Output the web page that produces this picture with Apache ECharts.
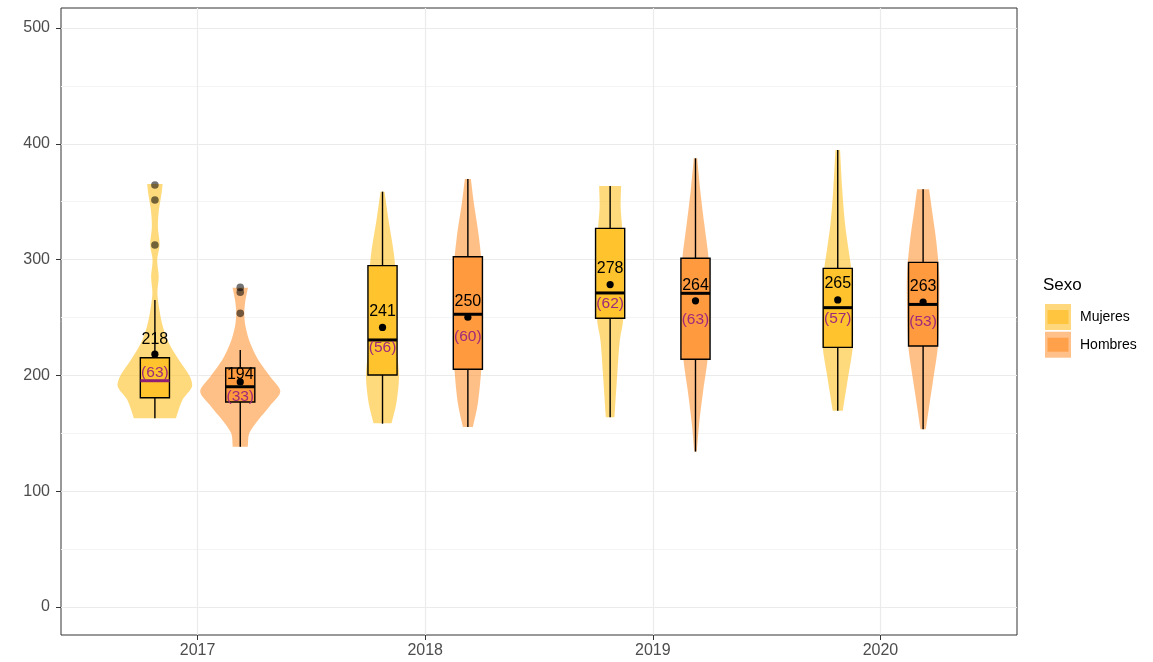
<!DOCTYPE html>
<html><head><meta charset="utf-8">
<script src="https://cdn.jsdelivr.net/npm/echarts@6/dist/echarts.min.js"></script>
<style>html,body{margin:0;padding:0;background:#fff}#c{width:1153px;height:662px}</style>
</head><body><div id="c"></div>
<script>
// ---------------- DATA ----------------
const years = ['2017', '2018', '2019', '2020'];
const yTicks = [0, 100, 200, 300, 400, 500];
const yMinorTicks = [50, 150, 250, 350, 450];

// Mujeres
const mujLo   = [163.0, 158.3, 163.8, 169.5];
const mujQ1   = [180.7, 200.4, 249.3, 224.2];
const mujMed  = [195.4, 230.6, 271.2, 258.5];
const mujQ3   = [215.3, 294.8, 327.0, 292.4];
const mujHi   = [265.1, 358.7, 363.6, 394.6];
const mujMean = [218.3, 241.4, 278.4, 265.2];
const mujN    = [63, 56, 62, 57];
const mujOut  = [[364.4, 351.5, 312.6], [], [], []];
// violin outline: [value, relative density]
const mujViolin = [
  [[163.0,21],[178.8,27.5],[190.2,37],[198.9,35],[213.3,24],[227.7,14],[242.1,8],[256.5,4.5],[270.9,2.5],[285.2,3.8],[299.7,2.3],[312.6,4.7],[328.4,3],[342.8,4],[357.3,6.7],[365.3,7.7]],
  [[158.6,9],[175.9,13.8],[198.9,16.5],[219.1,14.7],[247.8,13],[276.6,14],[305.5,11.3],[334.3,6],[358.7,2]],
  [[163.8,4.3],[201.8,7.2],[230.6,9.7],[247.8,13],[288.2,13],[327.0,12],[345.7,10.5],[363.6,11]],
  [[169.5,5],[201.8,11],[224.8,15],[253.6,15],[288.2,14],[308.3,10.8],[331.3,7.2],[360.1,4.5],[394.6,2.3]]
];

// Hombres
const homLo   = [138.4, 155.4, 134.2, 153.4];
const homQ1   = [177.0, 205.3, 214.0, 225.4];
const homMed  = [190.2, 252.8, 270.9, 261.3];
const homQ3   = [206.4, 302.5, 301.2, 297.6];
const homHi   = [221.9, 369.6, 387.5, 360.7];
const homMean = [194.4, 250.2, 264.4, 263.4];
const homN    = [33, 60, 63, 53];
const homOut  = [[276.0, 271.9, 253.6], [], [], []];
const homViolin = [
  [[138.4,7.5],[150.0,9],[161.5,18],[173.0,29],[186.0,40],[198.9,30],[213.3,18],[227.7,10],[242.1,5.3],[253.6,4],[265.1,5.2],[275.8,7.7]],
  [[155.4,5],[175.9,10],[204.7,13.3],[233.4,14.3],[262.3,14.7],[291.0,14.3],[319.8,11],[348.6,6],[369.6,3]],
  [[134.2,1.3],[158.6,3.7],[187.4,7.8],[213.3,12],[243.0,14],[273.7,14],[301.1,13],[331.3,8.7],[360.1,4.7],[387.5,1.7]],
  [[153.4,2.7],[173.0,6],[196.0,10],[224.8,14.7],[259.4,16],[288.2,16],[316.9,13],[340.0,9.3],[360.7,6]]
];

// ---------------- STYLE ----------------
const FONT = '"Liberation Sans", Arial, Helvetica, sans-serif';
const VIOLIN_SCALE = 0.176 / 40;   // x-units per density unit
const BOX_HALF = 0.064;
const DODGE = 0.1875;
const N_COLOR = '#9E2A7B';

const groups = [
  { name: 'Mujeres', dodge: -DODGE, lo: mujLo, q1: mujQ1, med: mujMed, q3: mujQ3, hi: mujHi, mean: mujMean, n: mujN, out: mujOut, violin: mujViolin,
    violinColor: 'rgba(255,193,37,0.6)', boxColor: 'rgba(255,193,37,0.9)', legendOuter: '#FFD77C', legendInner: '#FFC53F',
    medianColors: ['#8E1F72', '#000', '#000', '#000'], meanLift: [15, 15.6, 16, 16], nDrop: [19, 20, 19, 19.3] },
  { name: 'Hombres', dodge: DODGE, lo: homLo, q1: homQ1, med: homMed, q3: homQ3, hi: homHi, mean: homMean, n: homN, out: homOut, violin: homViolin,
    violinColor: 'rgba(255,150,55,0.6)', boxColor: 'rgba(255,150,55,0.9)', legendOuter: '#FFC08A', legendInner: '#FFA14B',
    medianColors: ['#000', '#000', '#000', '#000'], meanLift: [7, 15.6, 15.7, 15], nDrop: [15, 19.4, 19.3, 20] }
];

function makeRender(g) {
  return function (params, api) {
    const i = params.dataIndex;
    const xc = api.value(0) + g.dodge;
    const dens = g.violin[i];
    const right = dens.map(d => api.coord([xc + d[1] * VIOLIN_SCALE, d[0]]));
    const left = dens.slice().reverse().map(d => api.coord([xc - d[1] * VIOLIN_SCALE, d[0]]));
    // duplicate end points so the trimmed top and bottom stay flat with sharp corners
    const pts = [right[0]].concat(right, [right[right.length - 1], left[0]], left, [left[left.length - 1]]);
    const ch = [];
    ch.push({ type: 'polygon', shape: { points: pts, smooth: 0.3 }, style: { fill: g.violinColor } });
    const pLo = api.coord([xc, g.lo[i]]), pQ1 = api.coord([xc, g.q1[i]]);
    const pQ3 = api.coord([xc, g.q3[i]]), pHi = api.coord([xc, g.hi[i]]);
    ch.push({ type: 'line', shape: { x1: pLo[0], y1: pLo[1], x2: pQ1[0], y2: pQ1[1] }, style: { stroke: '#000', lineWidth: 1.4 } });
    ch.push({ type: 'line', shape: { x1: pQ3[0], y1: pQ3[1], x2: pHi[0], y2: pHi[1] }, style: { stroke: '#000', lineWidth: 1.4 } });
    const a = api.coord([xc - BOX_HALF, g.q3[i]]), b = api.coord([xc + BOX_HALF, g.q1[i]]);
    ch.push({ type: 'rect', shape: { x: a[0], y: a[1], width: b[0] - a[0], height: b[1] - a[1] },
      style: { fill: g.boxColor, stroke: '#000', lineWidth: 1.4 } });
    const m1 = api.coord([xc - BOX_HALF, g.med[i]]), m2 = api.coord([xc + BOX_HALF, g.med[i]]);
    ch.push({ type: 'line', shape: { x1: m1[0], y1: m1[1], x2: m2[0], y2: m2[1] }, style: { stroke: g.medianColors[i], lineWidth: 3 } });
    g.out[i].forEach(v => {
      const p = api.coord([xc, v]);
      ch.push({ type: 'circle', shape: { cx: p[0], cy: p[1], r: 3.8 }, style: { fill: 'rgba(0,0,0,0.55)' } });
    });
    const pm = api.coord([xc, g.mean[i]]);
    ch.push({ type: 'circle', shape: { cx: pm[0], cy: pm[1], r: 3.6 }, style: { fill: '#000' } });
    ch.push({ type: 'text', style: { text: String(Math.round(g.mean[i])), x: pm[0], y: pm[1] - g.meanLift[i],
      align: 'center', verticalAlign: 'middle', fill: '#000', font: '16px ' + FONT } });
    ch.push({ type: 'text', style: { text: '(' + g.n[i] + ')', x: pm[0], y: pm[1] + g.nDrop[i],
      align: 'center', verticalAlign: 'middle', fill: N_COLOR, font: '15.5px ' + FONT } });
    return { type: 'group', children: ch };
  };
}

const chart = echarts.init(document.getElementById('c'), null, { renderer: 'canvas' });
const yMin = -24.2, yMax = 517.3;
chart.setOption({
  animation: false,
  backgroundColor: '#fff',
  title: { text: 'Sexo', left: 1043, top: 277, padding: 0,
    textStyle: { fontSize: 17, fontWeight: 'normal', color: '#000', fontFamily: FONT } },
  legend: [
    { left: 1045, top: 304, orient: 'vertical', icon: 'rect', itemWidth: 26, itemHeight: 26, itemGap: 1.7, padding: 0,
      data: groups.map(g => ({ name: g.name, itemStyle: { color: g.legendOuter } })),
      textStyle: { fontSize: 14, color: '#000', fontFamily: FONT, padding: [0, 0, 0, 4] } },
    { left: 1047.5, top: 310, orient: 'vertical', icon: 'rect', itemWidth: 21, itemHeight: 14, itemGap: 13.7, padding: 0,
      selectedMode: false,
      data: groups.map(g => ({ name: g.name, itemStyle: { color: g.legendInner } })),
      textStyle: { fontSize: 14, color: 'rgba(0,0,0,0)', fontFamily: FONT } }
  ],
  grid: { left: 61, right: 136, top: 8, bottom: 27, show: true, borderColor: '#333', borderWidth: 1, backgroundColor: 'transparent' },
  xAxis: {
    type: 'value', min: 0.4, max: 4.6, position: 'bottom',
    axisLine: { show: false, onZero: false },
    axisTick: { show: true, customValues: [1, 2, 3, 4], length: 5, lineStyle: { color: '#333', width: 1 } },
    axisLabel: { customValues: [1, 2, 3, 4], formatter: v => years[Math.round(v) - 1] || '', margin: 8,
      fontSize: 16, color: '#4D4D4D', fontFamily: FONT },
    splitLine: { show: true, lineStyle: { color: '#EBEBEB', width: 1.2 } }
  },
  yAxis: [
    { type: 'value', min: yMin, max: yMax,
      axisLine: { show: false, onZero: false },
      axisTick: { show: true, customValues: yTicks, length: 5, lineStyle: { color: '#333', width: 1 } },
      axisLabel: { customValues: yTicks, margin: 11, fontSize: 16, color: '#4D4D4D', fontFamily: FONT },
      splitLine: { show: true, lineStyle: { color: '#EBEBEB', width: 1.2 } } },
    { type: 'value', min: yMin, max: yMax, position: 'left',
      axisLine: { show: false, onZero: false },
      axisTick: { show: false, customValues: yMinorTicks },
      axisLabel: { show: false, customValues: yMinorTicks },
      splitLine: { show: true, lineStyle: { color: '#F4F4F4', width: 1 } } }
  ],
  series: groups.map(g => ({
    name: g.name, type: 'custom', xAxisIndex: 0, yAxisIndex: 0, clip: false,
    itemStyle: { color: g.legendOuter },
    renderItem: makeRender(g),
    encode: { x: 0, y: 1 },
    data: years.map((y, i) => [i + 1, g.mean[i]])
  }))
});
</script>
</body></html>
